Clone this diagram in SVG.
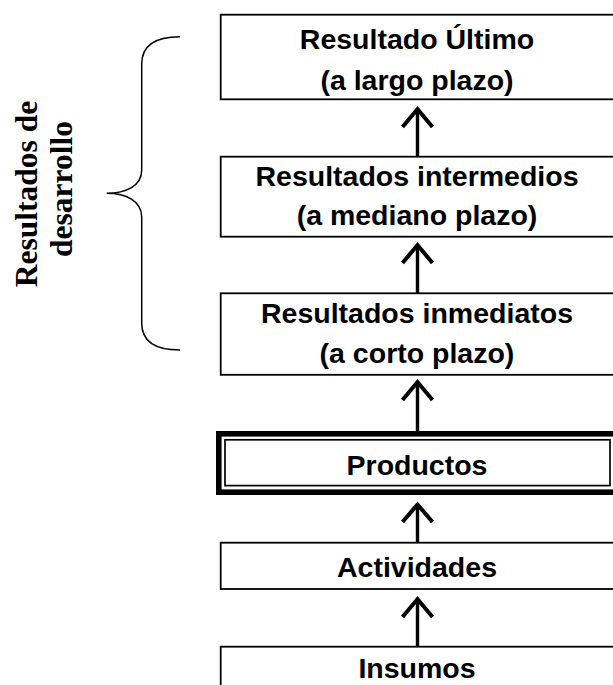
<svg xmlns="http://www.w3.org/2000/svg" width="613" height="685" viewBox="0 0 613 685">
<style>
.box{fill:#fff;stroke:#000;stroke-width:1.8}
.t{font-family:"Liberation Sans",Arial,sans-serif;font-weight:bold;font-size:28.5px;text-anchor:middle;fill:#000}
.side{font-family:"Liberation Serif","Times New Roman",serif;font-weight:bold;font-size:31.5px;text-anchor:middle;fill:#000}
.ln{stroke:#000;stroke-width:3.4;fill:none}
.hd{stroke:#000;stroke-width:4;fill:none;stroke-linejoin:miter;stroke-miterlimit:6;stroke-linecap:butt}
.brace{stroke:#000;stroke-width:1.5;fill:none}
</style>
<rect width="613" height="685" fill="#fff"/>
<g id="brace-label">
<path class="brace" d="M180,36.7 C152,36.7 141.7,48 141.7,64 L141.7,170 C141.7,186 126,193.3 106.7,193.3 C126,193.3 141.7,201 141.7,217 L141.7,323 C141.7,339 152,350 180,350"/>
<text class="side" transform="translate(37,194) rotate(-90)">Resultados de</text>
<text class="side" transform="translate(72,189) rotate(-90)">desarrollo</text>
</g>
<g id="connectors">
<line class="ln" x1="417.5" y1="110" x2="417.5" y2="156.7"/>
<polyline class="hd" points="402.5,127 417.5,109 432.5,127"/>
<line class="ln" x1="417.5" y1="246" x2="417.5" y2="293.3"/>
<polyline class="hd" points="402.5,263 417.5,245 432.5,263"/>
<line class="ln" x1="417.5" y1="383" x2="417.5" y2="431"/>
<polyline class="hd" points="402.5,400 417.5,382 432.5,400"/>
<line class="ln" x1="417.5" y1="505" x2="417.5" y2="542.7"/>
<polyline class="hd" points="402.5,522 417.5,504.5 432.5,522"/>
<line class="ln" x1="417.5" y1="599" x2="417.5" y2="646.7"/>
<polyline class="hd" points="402.5,617 417.5,599 432.5,617"/>
</g>
<g id="resultado-ultimo">
<rect class="box" x="220.7" y="14.7" width="400" height="84.6"/>
<text class="t" x="417" y="49">Resultado Último</text>
<text class="t" x="417" y="90">(a largo plazo)</text>
</g>
<g id="resultados-intermedios">
<rect class="box" x="220.7" y="156.7" width="400" height="80"/>
<text class="t" x="417" y="186">Resultados intermedios</text>
<text class="t" x="417" y="225">(a mediano plazo)</text>
</g>
<g id="resultados-inmediatos">
<rect class="box" x="220.7" y="293.3" width="400" height="81.5"/>
<text class="t" x="417" y="322.5">Resultados inmediatos</text>
<text class="t" x="417" y="363">(a corto plazo)</text>
</g>
<g id="productos">
<rect x="218.8" y="433.8" width="400" height="58.4" fill="#fff" stroke="#000" stroke-width="5.6"/>
<rect x="225" y="439.8" width="385" height="45.8" fill="none" stroke="#000" stroke-width="1.7"/>
<text class="t" x="417" y="474.5">Productos</text>
</g>
<g id="actividades">
<rect class="box" x="220.7" y="542.7" width="400" height="46.3"/>
<text class="t" x="417" y="576.5">Actividades</text>
</g>
<g id="insumos">
<rect class="box" x="220.7" y="646.7" width="400" height="60"/>
<text class="t" x="417" y="678">Insumos</text>
</g>
</svg>
